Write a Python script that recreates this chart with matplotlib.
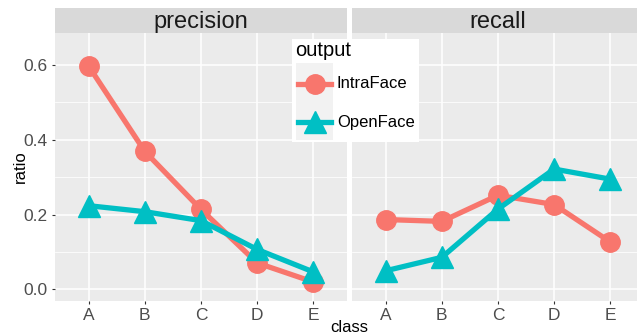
import numpy as np
import matplotlib.pyplot as plt
from matplotlib.lines import Line2D
from matplotlib.patches import Rectangle

plt.rcParams['font.family'] = ['Liberation Sans', 'DejaVu Sans']

classes = ["A", "B", "C", "D", "E"]
metrics = ["precision", "recall"]
intraface = {
    "precision": [0.597, 0.369, 0.214, 0.071, 0.020],
    "recall": [0.187, 0.182, 0.252, 0.227, 0.127],
}
openface = {
    "precision": [0.224, 0.208, 0.184, 0.107, 0.047],
    "recall": [0.050, 0.086, 0.215, 0.322, 0.295],
}

red = "#F8766D"
teal = "#00BFC4"
W, H = 637, 335

fig = plt.figure(figsize=(W / 100, H / 100), dpi=100)

def px(x0, y0, x1, y1):
    # pixel box (top-left origin) -> figure fraction rect
    return [x0 / W, 1 - y1 / H, (x1 - x0) / W, (y1 - y0) / H]

panels = [(55, 347), (352, 644)]
x = np.arange(len(classes))
for i, (m, (l, r)) in enumerate(zip(metrics, panels)):
    ax = fig.add_axes(px(l, 33.3, r, 300.5))
    ax.set_facecolor("#EBEBEB")
    for s in ax.spines.values():
        s.set_visible(False)
    ax.set_xlim(-0.6, 4.6)
    ax.set_ylim(-0.0295, 0.685)
    ax.set_xticks(x)
    ax.set_xticklabels(classes)
    ax.set_yticks([0.0, 0.2, 0.4, 0.6])
    ax.set_yticks([0.1, 0.3, 0.5], minor=True)
    ax.grid(True, which="major", color="white", lw=1.1)
    ax.grid(True, which="minor", axis="y", color="white", lw=0.55)
    ax.set_axisbelow(True)
    ax.tick_params(which="major", length=2.5, color="#333333", colors="#4D4D4D",
                   labelsize=12.5, pad=3)
    ax.tick_params(which="minor", length=0)
    if i == 0:
        ax.set_yticklabels(["0.0", "0.2", "0.4", "0.6"])
    else:
        ax.tick_params(axis="y", which="major", length=0, labelleft=False)

    ax.plot(x, intraface[m], color=red, lw=3.8, marker="o", ms=14, zorder=3)
    ax.plot(x, openface[m], color=teal, lw=3.8, marker="^", ms=16, zorder=3)

    # facet strip
    sax = fig.add_axes(px(l, 7.5, r, 33.3))
    sax.set_facecolor("#D9D9D9")
    sax.set_xticks([])
    sax.set_yticks([])
    for s in sax.spines.values():
        s.set_visible(False)
    sax.text(0.5, 0.45, m, ha="center", va="center", fontsize=17,
             color="#1A1A1A", transform=sax.transAxes)

fig.text(349.5 / W, 1 - 327 / H, "class", ha="center", va="center", fontsize=12)
fig.text(20 / W, 1 - 167 / H, "ratio", ha="center", va="center", fontsize=12,
         rotation=90)

# legend
fig.patches.append(Rectangle((291.5 / W, 1 - 142 / H), 127.5 / W, 103 / H,
                             transform=fig.transFigure, facecolor="white",
                             edgecolor="none", zorder=5))
fig.text(295.5 / W, 1 - 50 / H, "output", ha="left", va="center", fontsize=14.5,
         color="black", zorder=6)
for k, (lab, col, mk, ms) in enumerate([("IntraFace", red, "o", 14),
                                        ("OpenFace", teal, "^", 16)]):
    y0 = 63.5 + k * 38.5
    fig.patches.append(Rectangle((296 / W, 1 - (y0 + 38) / H), 37 / W, 38 / H,
                                 transform=fig.transFigure, facecolor="#F2F2F2",
                                 edgecolor="none", zorder=6))
    fig.lines.append(Line2D([298 / W, 331 / W], [1 - (y0 + 20) / H] * 2,
                            transform=fig.transFigure, color=col, lw=3.8,
                            zorder=7))
    fig.lines.append(Line2D([314.5 / W], [1 - (y0 + 20) / H],
                            transform=fig.transFigure, color=col, marker=mk,
                            ms=ms, lw=0, zorder=7))
    fig.text(337 / W, 1 - (y0 + 20) / H, lab, ha="left", va="center",
             fontsize=12, color="black", zorder=7)

fig.savefig("out.png", dpi=100)
